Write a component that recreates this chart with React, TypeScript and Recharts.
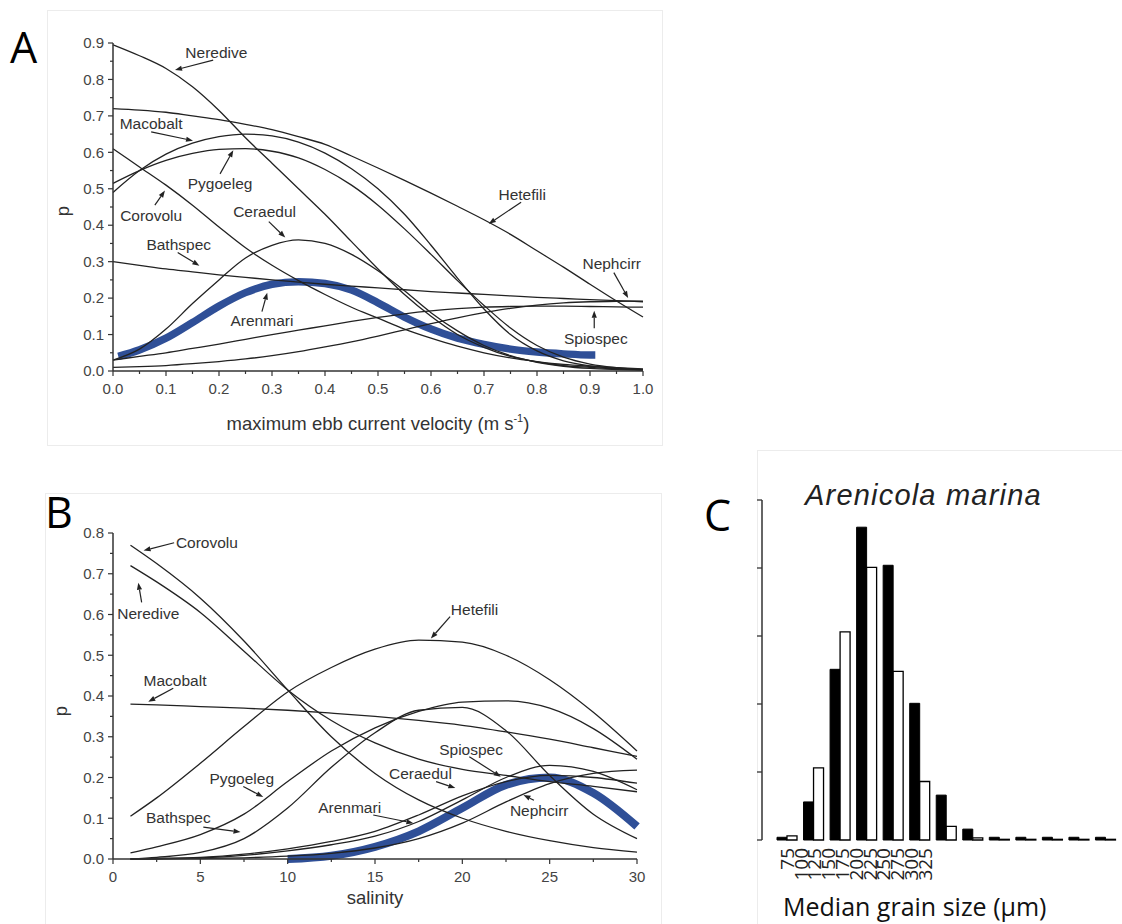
import React from 'react';
import { LineChart, Line, XAxis, YAxis, ReferenceLine, ReferenceDot, BarChart, Bar, Label } from 'recharts';

// ---- Panel A: response vs maximum ebb current velocity ----
const velocity = [0, 0.05, 0.1, 0.15, 0.2, 0.25, 0.3, 0.35, 0.4, 0.45, 0.5, 0.55, 0.6, 0.65, 0.7, 0.75, 0.8, 0.85, 0.9, 0.95, 1.0];
const neredivA = [0.895, 0.865, 0.83, 0.78, 0.715, 0.64, 0.57, 0.5, 0.43, 0.355, 0.28, 0.21, 0.15, 0.1, 0.065, 0.04, 0.025, 0.015, 0.01, 0.006, 0.004];
const hetefiliA = [0.72, 0.716, 0.71, 0.7, 0.69, 0.677, 0.662, 0.643, 0.622, 0.59, 0.557, 0.523, 0.488, 0.452, 0.415, 0.375, 0.33, 0.285, 0.238, 0.192, 0.148];
const macobaltA = [0.49, 0.55, 0.595, 0.625, 0.643, 0.65, 0.645, 0.628, 0.598, 0.555, 0.5, 0.43, 0.345, 0.255, 0.17, 0.1, 0.055, 0.028, 0.014, 0.007, 0.003];
const pygoelegA = [0.515, 0.55, 0.578, 0.597, 0.608, 0.61, 0.603, 0.585, 0.553, 0.51, 0.455, 0.39, 0.32, 0.248, 0.18, 0.118, 0.07, 0.038, 0.019, 0.009, 0.004];
const corovoluA = [0.61, 0.56, 0.51, 0.455, 0.395, 0.338, 0.29, 0.248, 0.21, 0.175, 0.145, 0.115, 0.09, 0.068, 0.05, 0.036, 0.026, 0.018, 0.013, 0.009, 0.006];
const ceraedulA = [0.03, 0.06, 0.115, 0.185, 0.25, 0.31, 0.345, 0.36, 0.35, 0.32, 0.275, 0.22, 0.16, 0.11, 0.07, 0.042, 0.024, 0.013, 0.007, 0.004, 0.002];
const bathspecA = [0.3, 0.29, 0.28, 0.272, 0.264, 0.257, 0.25, 0.244, 0.238, 0.233, 0.228, 0.223, 0.218, 0.214, 0.21, 0.206, 0.202, 0.199, 0.196, 0.193, 0.19];
const nephcirrA = [0.03, 0.04, 0.05, 0.062, 0.074, 0.087, 0.1, 0.112, 0.124, 0.136, 0.147, 0.157, 0.165, 0.171, 0.175, 0.177, 0.178, 0.178, 0.177, 0.176, 0.175];
const spiospecA = [0.01, 0.012, 0.015, 0.02, 0.026, 0.033, 0.042, 0.053, 0.066, 0.08, 0.096, 0.113, 0.13, 0.146, 0.16, 0.172, 0.181, 0.187, 0.19, 0.191, 0.192];
const arenmariVelocity = [0.01, 0.05, 0.1, 0.15, 0.2, 0.25, 0.3, 0.35, 0.4, 0.45, 0.5, 0.55, 0.6, 0.65, 0.7, 0.75, 0.8, 0.85, 0.9, 0.91];
const arenmariA = [0.04, 0.058, 0.09, 0.133, 0.178, 0.215, 0.238, 0.245, 0.24, 0.222, 0.187, 0.148, 0.115, 0.09, 0.073, 0.06, 0.052, 0.047, 0.044, 0.044];
const velocityTicks = [0, 0.05, 0.1, 0.15, 0.2, 0.25, 0.3, 0.35, 0.4, 0.45, 0.5, 0.55, 0.6, 0.65, 0.7, 0.75, 0.8, 0.85, 0.9, 0.95, 1.0];
const pTicksA = [0, 0.05, 0.1, 0.15, 0.2, 0.25, 0.3, 0.35, 0.4, 0.45, 0.5, 0.55, 0.6, 0.65, 0.7, 0.75, 0.8, 0.85, 0.9];

// ---- Panel B: response vs salinity ----
const salinity = [1, 2.5, 5, 7.5, 10, 12.5, 15, 17.5, 20, 22.5, 25, 27.5, 30];
const corovoluB = [0.77, 0.725, 0.64, 0.535, 0.415, 0.3, 0.21, 0.145, 0.1, 0.068, 0.045, 0.028, 0.017];
const neredivB = [0.72, 0.68, 0.605, 0.51, 0.415, 0.34, 0.285, 0.245, 0.22, 0.205, 0.19, 0.178, 0.165];
const macobaltB = [0.38, 0.378, 0.374, 0.37, 0.365, 0.358, 0.35, 0.34, 0.328, 0.312, 0.294, 0.273, 0.252];
const hetefiliB = [0.105, 0.15, 0.235, 0.325, 0.41, 0.47, 0.515, 0.537, 0.532, 0.5, 0.44, 0.36, 0.265];
const pygoelegB = [0.015, 0.03, 0.06, 0.11, 0.19, 0.265, 0.322, 0.362, 0.385, 0.388, 0.37, 0.32, 0.245];
const bathspecB = [0.0, 0.004, 0.016, 0.05, 0.125, 0.225, 0.31, 0.365, 0.372, 0.315, 0.205, 0.11, 0.05];
const ceraedulB = [0.0, 0.001, 0.004, 0.012, 0.025, 0.043, 0.068, 0.108, 0.155, 0.19, 0.205, 0.2, 0.186];
const spiospecB = [0.0, 0.001, 0.003, 0.009, 0.02, 0.035, 0.056, 0.092, 0.145, 0.2, 0.23, 0.215, 0.17];
const nephcirrB = [0.0, 0.0, 0.001, 0.003, 0.007, 0.014, 0.027, 0.05, 0.088, 0.14, 0.185, 0.21, 0.218];
const arenmariB = [null, null, null, null, 0.0, 0.008, 0.03, 0.068, 0.125, 0.182, 0.2, 0.162, 0.08];
const salinityTicks = [0, 2.5, 5, 7.5, 10, 12.5, 15, 17.5, 20, 22.5, 25, 27.5, 30];
const pTicksB = [0, 0.05, 0.1, 0.15, 0.2, 0.25, 0.3, 0.35, 0.4, 0.45, 0.5, 0.55, 0.6, 0.65, 0.7, 0.75, 0.8];

// ---- Panel C: Arenicola marina vs median grain size ----
const grainSize = [75, 100, 125, 150, 175, 200, 225, 250, 275, 300, 325, 350, 375];
const arenicolaPct = [0.4, 5.6, 25.1, 46.0, 40.4, 20.1, 6.6, 1.6, 0.4, 0.4, 0.4, 0.4, 0.4];
const sedimentPct = [0.6, 10.6, 30.6, 40.1, 24.8, 8.6, 2.0, 0.3, 0.1, 0.1, 0.1, 0.1, 0.1];
const grainTicks = [75, 100, 125, 150, 175, 200, 225, 250, 275, 300, 325];
const pctTicks = [0, 10, 20, 30, 40, 50];

// label placements for the species annotations
const notesA = [
  { text: 'Neredive', at: [0.195, 0.875], anchor: 'middle', from: [0.189, 0.853], to: [0.117, 0.826] },
  { text: 'Macobalt', at: [0.072, 0.678], anchor: 'middle', from: [0.072, 0.656], to: [0.151, 0.632] },
  { text: 'Pygoeleg', at: [0.202, 0.514], anchor: 'middle', from: [0.202, 0.541], to: [0.227, 0.606] },
  { text: 'Corovolu', at: [0.072, 0.426], anchor: 'middle', from: [0.079, 0.455], to: [0.098, 0.495] },
  { text: 'Ceraedul', at: [0.286, 0.438], anchor: 'middle', from: [0.294, 0.41], to: [0.325, 0.366] },
  { text: 'Bathspec', at: [0.124, 0.348], anchor: 'middle', from: [0.122, 0.325], to: [0.163, 0.289] },
  { text: 'Arenmari', at: [0.281, 0.137], anchor: 'middle', from: [0.281, 0.163], to: [0.291, 0.215] },
  { text: 'Hetefili', at: [0.772, 0.485], anchor: 'middle', from: [0.77, 0.463], to: [0.709, 0.404] },
  { text: 'Nephcirr', at: [0.941, 0.294], anchor: 'middle', from: [0.945, 0.27], to: [0.972, 0.2] },
  { text: 'Spiospec', at: [0.911, 0.09], anchor: 'middle', from: [0.908, 0.117], to: [0.908, 0.165] },
];
const notesB = [
  { text: 'Corovolu', at: [3.6, 0.776], anchor: 'start', from: [3.5, 0.776], to: [1.75, 0.757] },
  { text: 'Neredive', at: [2.02, 0.603], anchor: 'middle', from: [1.64, 0.63], to: [1.45, 0.678] },
  { text: 'Macobalt', at: [3.55, 0.439], anchor: 'middle', from: [3.45, 0.419], to: [2.02, 0.386] },
  { text: 'Pygoeleg', at: [7.37, 0.198], anchor: 'middle', from: [7.46, 0.178], to: [8.6, 0.152] },
  { text: 'Bathspec', at: [3.74, 0.101], anchor: 'middle', from: [5.17, 0.078], to: [7.3, 0.066] },
  { text: 'Arenmari', at: [13.55, 0.125], anchor: 'middle', from: [14.9, 0.108], to: [17.2, 0.088] },
  { text: 'Ceraedul', at: [17.6, 0.21], anchor: 'middle', from: [18.5, 0.19], to: [19.6, 0.174] },
  { text: 'Spiospec', at: [20.5, 0.269], anchor: 'middle', from: [20.4, 0.251], to: [22.2, 0.202] },
  { text: 'Nephcirr', at: [24.4, 0.12], anchor: 'middle', from: [24.1, 0.144], to: [23.5, 0.157] },
  { text: 'Hetefili', at: [20.7, 0.611], anchor: 'middle', from: [19.3, 0.595], to: [18.2, 0.541] },
];

const FONT = '"Liberation Sans", Arial, sans-serif';
const SANS = '"Open Sans", sans-serif';
const INK = '#222';
const AXIS = '#333';
const BLUE = '#2f4f97';

const curvesA: [string, number[]][] = [
  ['Neredive', neredivA], ['Hetefili', hetefiliA], ['Macobalt', macobaltA], ['Pygoeleg', pygoelegA],
  ['Corovolu', corovoluA], ['Ceraedul', ceraedulA], ['Bathspec', bathspecA], ['Nephcirr', nephcirrA], ['Spiospec', spiospecA],
];
const curvesB: [string, (number | null)[]][] = [
  ['Corovolu', corovoluB], ['Neredive', neredivB], ['Macobalt', macobaltB], ['Hetefili', hetefiliB], ['Pygoeleg', pygoelegB],
  ['Bathspec', bathspecB], ['Ceraedul', ceraedulB], ['Spiospec', spiospecB], ['Nephcirr', nephcirrB],
];

const tableA = velocity.map((x, i) => {
  const row: any = { x };
  curvesA.forEach(([name, vals]) => { row[name] = vals[i]; });
  return row;
});
const arenmariRowsA = arenmariVelocity.map((x, i) => ({ x, Arenmari: arenmariA[i] }));
const tableB = salinity.map((x, i) => {
  const row: any = { x, Arenmari: arenmariB[i] };
  curvesB.forEach(([name, vals]) => { row[name] = vals[i]; });
  return row;
});
const tableC = grainSize.map((g, i) => ({ size: String(g), arenicola: arenicolaPct[i], sediment: sedimentPct[i] }));
const grainLabelRows = grainTicks.map((g) => ({ g: String(g) }));

const isTenth = (v: number) => Math.round(v * 100) % 10 === 0;

const xTick = (isMajor: (v: number) => boolean, fmt: (v: number) => string) => (props: any) => {
  const { x, y, payload } = props;
  const major = isMajor(payload.value);
  return (
    <g>
      <line x1={x} x2={x} y1={y} y2={y + (major ? 5 : 3)} stroke={AXIS} strokeWidth={1.2} />
      {major && (
        <text x={x} y={y + 23} textAnchor="middle" fontSize={15} fill="#444" fontFamily={FONT}>{fmt(payload.value)}</text>
      )}
    </g>
  );
};

const yTick = (props: any) => {
  const { x, y, payload } = props;
  const major = isTenth(payload.value);
  return (
    <g>
      <line x1={x} x2={x - (major ? 5 : 3)} y1={y} y2={y} stroke={AXIS} strokeWidth={1.2} />
      {major && (
        <text x={x - 9} y={y} dy="0.35em" textAnchor="end" fontSize={15} fill="#444" fontFamily={FONT}>{payload.value.toFixed(1)}</text>
      )}
    </g>
  );
};

const pctTick = (props: any) => {
  const { x, y } = props;
  return <line x1={x} x2={x - 5} y1={y} y2={y} stroke={AXIS} strokeWidth={1.3} />;
};

const arrowShape = (props: any) => {
  const { x1, y1, x2, y2 } = props;
  const a = Math.atan2(y2 - y1, x2 - x1);
  const L = 7, W = 2.6;
  const bx = x2 - L * Math.cos(a), by = y2 - L * Math.sin(a);
  const pts = `${x2},${y2} ${bx + W * Math.sin(a)},${by - W * Math.cos(a)} ${bx - W * Math.sin(a)},${by + W * Math.cos(a)}`;
  return (
    <g>
      <line x1={x1} y1={y1} x2={bx} y2={by} stroke={INK} strokeWidth={1.2} />
      <polygon points={pts} fill={INK} />
    </g>
  );
};

const renderNotes = (notes: any[]) => notes.flatMap((n) => [
  <ReferenceLine key={n.text + '-arrow'} segment={[{ x: n.from[0], y: n.from[1] }, { x: n.to[0], y: n.to[1] }]} shape={arrowShape} />,
  <ReferenceDot key={n.text + '-text'} x={n.at[0]} y={n.at[1]} r={0}
    shape={(p: any) => (
      <text x={p.cx} y={p.cy} dy="0.35em" textAnchor={n.anchor} fontSize={15.5} fill="#333" fontFamily={FONT}>{n.text}</text>
    )} />,
]);

const pLabel = (shift: number) => (props: any) => {
  const { viewBox } = props;
  const cx = viewBox.x + 16;
  const cy = viewBox.y + viewBox.height / 2 + shift;
  return (
    <text x={cx} y={cy} transform={`rotate(-90 ${cx} ${cy})`} textAnchor="middle" dy="0.35em" fontSize={18.5} fill="#333" fontFamily={FONT}>p</text>
  );
};

const velocityTitle = (props: any) => {
  const { viewBox } = props;
  return (
    <text x={viewBox.x + viewBox.width / 2} y={viewBox.y + 59} textAnchor="middle" fontSize={18.5} fill="#333" fontFamily={FONT}>
      maximum ebb current velocity (m s<tspan dy={-8} fontSize={11}>-1</tspan><tspan dy={8}>)</tspan>
    </text>
  );
};

const salinityTitle = (props: any) => {
  const { viewBox } = props;
  return (
    <text x={viewBox.x + viewBox.width / 2} y={viewBox.y + 45} textAnchor="middle" fontSize={18.5} fill="#333" fontFamily={FONT}>salinity</text>
  );
};

const grainTick = (props: any) => {
  const { x, y, payload } = props;
  return (
    <text x={x} y={y} transform={`rotate(-90 ${x} ${y})`} textAnchor="end" dy="0.36em" fontSize={19} fill="#222" fontFamily={SANS}>{payload.value}</text>
  );
};

const frame = (left: number, top: number, width: number, height: number): React.CSSProperties => ({
  position: 'absolute', left, top, width, height, border: '1px solid #ececec', boxSizing: 'border-box',
});

const App = () => (
  <div style={{ position: 'absolute', left: 0, top: 0, width: 1122, height: 924, background: '#fff', overflow: 'hidden' }}>
    <div style={frame(47, 10, 616, 436)} />
    <div style={frame(45, 493, 617, 440)} />
    <div style={frame(757, 450, 370, 480)} />

    {/* Panel A */}
    <div style={{ position: 'absolute', left: 47, top: 10 }}>
      <LineChart width={616} height={435} data={tableA} margin={{ top: 33, right: 20, bottom: 0, left: 0 }}>
        <XAxis dataKey="x" type="number" domain={[0, 1]} ticks={velocityTicks} interval={0} height={74}
          tickSize={0} tickMargin={0} tickLine={false} axisLine={{ stroke: AXIS, strokeWidth: 1.5 }}
          tick={xTick(isTenth, (v) => v.toFixed(1))}>
          <Label content={velocityTitle} />
        </XAxis>
        <YAxis type="number" domain={[0, 0.9]} ticks={pTicksA} interval={0} width={66}
          tickSize={0} tickMargin={0} tickLine={false} axisLine={{ stroke: AXIS, strokeWidth: 1.5 }} tick={yTick}>
          <Label content={pLabel(4)} />
        </YAxis>
        <Line data={arenmariRowsA} dataKey="Arenmari" type="monotone" stroke={BLUE} strokeWidth={7.5} dot={false} activeDot={false} isAnimationActive={false} />
        {curvesA.map(([name]) => (
          <Line key={name} dataKey={name} type="monotone" stroke={INK} strokeWidth={1.3} dot={false} activeDot={false} isAnimationActive={false} />
        ))}
        {renderNotes(notesA)}
      </LineChart>
    </div>

    {/* Panel B */}
    <div style={{ position: 'absolute', left: 45, top: 493 }}>
      <LineChart width={617} height={431} data={tableB} margin={{ top: 40, right: 25, bottom: 0, left: 0 }}>
        <XAxis dataKey="x" type="number" domain={[0, 30]} ticks={salinityTicks} interval={0} height={65}
          tickSize={0} tickMargin={0} tickLine={false} axisLine={{ stroke: AXIS, strokeWidth: 1.5 }}
          tick={xTick((v) => v % 5 === 0, (v) => String(v))}>
          <Label content={salinityTitle} />
        </XAxis>
        <YAxis type="number" domain={[0, 0.8]} ticks={pTicksB} interval={0} width={68}
          tickSize={0} tickMargin={0} tickLine={false} axisLine={{ stroke: AXIS, strokeWidth: 1.5 }} tick={yTick}>
          <Label content={pLabel(15)} />
        </YAxis>
        <Line dataKey="Arenmari" type="monotone" stroke={BLUE} strokeWidth={8} dot={false} activeDot={false} isAnimationActive={false} />
        {curvesB.map(([name]) => (
          <Line key={name} dataKey={name} type="monotone" stroke={INK} strokeWidth={1.3} dot={false} activeDot={false} isAnimationActive={false} />
        ))}
        {renderNotes(notesB)}
      </LineChart>
    </div>

    {/* Panel C: bars */}
    <div style={{ position: 'absolute', left: 740, top: 450 }}>
      <BarChart width={382} height={474} data={tableC} margin={{ top: 50, right: 3, bottom: 84, left: 0 }} barGap={0}>
        <XAxis dataKey="size" hide padding={{ left: 12, right: 0 }} />
        <YAxis type="number" domain={[0, 50]} ticks={pctTicks} interval={0} width={22} tick={pctTick} tickSize={0} tickMargin={0}
          tickLine={false} axisLine={{ stroke: AXIS, strokeWidth: 1.5 }} />
        <Bar dataKey="arenicola" fill="#000" stroke="#000" strokeWidth={1} barSize={10} isAnimationActive={false} />
        <Bar dataKey="sediment" fill="#fff" stroke="#000" strokeWidth={1.3} barSize={10} isAnimationActive={false} />
      </BarChart>
    </div>

    {/* Panel C: grain-size tick labels (set tighter than the bars, as in the source figure) */}
    <div style={{ position: 'absolute', left: 770, top: 824 }}>
      <BarChart width={172} height={100} data={grainLabelRows} margin={{ top: 0, right: 10, bottom: 0, left: 10 }}>
        <XAxis dataKey="g" interval={0} height={84} axisLine={false} tickLine={false} tickSize={0} tickMargin={8} tick={grainTick} />
        <YAxis hide />
      </BarChart>
    </div>

    {/* panel letters and titles */}
    <svg width={1122} height={924} style={{ position: 'absolute', left: 0, top: 0, pointerEvents: 'none' }}>
      <text x={10} y={63} fontSize={43} fill="#000" fontFamily={SANS}>A</text>
      <text x={45} y={528} fontSize={43} fill="#000" fontFamily={SANS}>B</text>
      <text x={704} y={531} fontSize={43} fill="#000" fontFamily={SANS}>C</text>
      <text x={805} y={505} fontSize={29} fontStyle="italic" letterSpacing={1.2} fill="#222" fontFamily={FONT}>Arenicola marina</text>
      <text x={783} y={916} fontSize={25} fill="#111" fontFamily={SANS}>Median grain size (μm)</text>
    </svg>
  </div>
);

export default App;
